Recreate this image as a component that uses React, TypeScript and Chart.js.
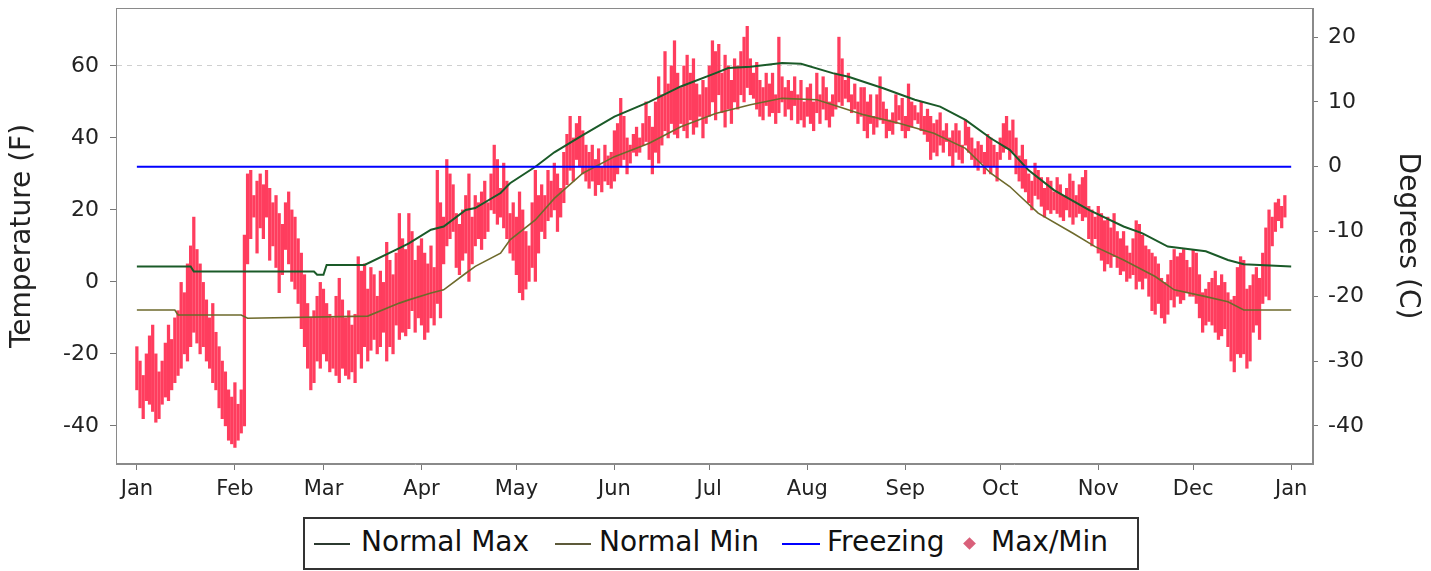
import { useEffect, useRef } from 'react'
import { Chart, registerables } from 'chart.js'

Chart.register(...registerables)

const MONTHS = ['Jan', 'Feb', 'Mar', 'Apr', 'May', 'Jun', 'Jul', 'Aug', 'Sep', 'Oct', 'Nov', 'Dec', 'Jan']
const MONTH_START_DAYS = [0, 31, 59, 90, 120, 151, 181, 212, 243, 273, 304, 334, 365]

// daily observed max / min (F), index = day of year
const DAILY_MAX = [
  -18, -22, -26, -20, -15, -12, -20, -25, -22, -17,
  -12, -16, -10, -8, 0, -3, 5, 10, 18, 9,
  5, 0, -5, -10, -6, -14, -18, -22, -25, -30,
  -32, -28, -34, -30, 13, 30, 31, 24, 28, 30,
  27, 31, 26, 22, 24, 19, 16, 22, 25, 20,
  18, 12, 8, 2, -6, -10, -8, -4, 0, -2,
  -6, -9, -10, -4, 1, -5, -10, -8, -12, -9,
  7, 3, 5, -2, 4, 2, -4, 3, 0, 11,
  6, 2, 8, 19, 12, 9, 19, 14, 6, 10,
  12, 8, 5, 10, 4, 31, 22, 18, 34, 30,
  27, 19, 16, 20, 24, 30, 18, 24, 22, 25,
  28, 22, 30, 38, 34, 26, 33, 28, 19, 22,
  18, 25, 20, 14, 10, 22, 31, 24, 27, 24,
  31, 28, 33, 30, 26, 36, 41, 46, 40, 44,
  46, 42, 38, 36, 38, 34, 37, 32, 38, 35,
  36, 42, 44, 51, 46, 40, 38, 41, 43, 40,
  44, 50, 46, 43, 50, 57, 52, 64, 55, 60,
  67, 58, 54, 60, 63, 58, 62, 55, 52, 56,
  54, 60, 67, 64, 66, 58, 63, 60, 56, 62,
  60, 64, 68, 71, 62, 58, 61, 56, 54, 58,
  55, 58, 52, 68, 57, 54, 56, 53, 57, 52,
  56, 50, 54, 55, 50, 58, 52, 57, 54, 50,
  52, 58, 68, 62, 56, 58, 52, 55, 50, 54,
  54, 50, 52, 46, 52, 57, 50, 48, 45, 47,
  52, 49, 51, 46, 55, 50, 49, 47, 50, 46,
  48, 46, 44, 45, 47, 42, 44, 40, 42, 44,
  42, 38, 45, 43, 40, 37, 39, 38, 36, 41,
  40, 38, 36, 40, 44, 46, 42, 45, 40, 35,
  38, 34, 30, 28, 33, 31, 29, 26, 29, 28,
  25, 29, 27, 24, 26, 30, 28, 24, 27, 29,
  31, 21, 20, 18, 21, 19, 17, 18, 15, 19,
  14, 12, 14, 10, 8, 12, 17, 16, 13, 10,
  9, 8, 7, 5, 1, 0, 2, 6, 9, 7,
  8, 9, 6, 4, 9, 8, 2, -3, -2, 0,
  1, 3, -1, 2, 0, -3, -5, -4, 4, 7,
  6, -2, -1, 2, 4, 1, 8, 15, 20, 18,
  22, 23, 21, 24,
]
const DAILY_MIN = [
  -30, -35, -38, -33, -34, -36, -39, -38, -34, -32,
  -33, -30, -28, -26, -24, -20, -22, -18, -14, -17,
  -20, -18, -22, -24, -28, -30, -35, -38, -40, -44,
  -45, -46, -44, -42, -40, 5, 12, 18, 8, 15,
  12, 18, 6, 10, 4, -3, 2, 9, 5, 0,
  -2, -6, -13, -18, -24, -30, -28, -22, -24, -20,
  -22, -25, -24, -26, -28, -24, -26, -27, -25, -28,
  -20, -24, -18, -22, -19, -16, -20, -18, -14, -22,
  -18, -20, -12, -16, -14, -15, -13, -8, -14, -10,
  -12, -16, -14, -10, -12, -6, -10, 5, 10, 12,
  14, 4, 2, 6, 8, 0, 5, 10, 12, 9,
  12, 14, 20, 19, 16, 18, 15, 12, 8, 6,
  2, -3, -5, -2, 0, 4, 0, 8, 14, 12,
  17, 18, 20, 14, 18, 22, 27, 31, 28, 34,
  32, 30, 28, 26, 28, 24, 27, 25, 28, 27,
  26, 28, 30, 32, 34, 30, 33, 36, 35, 36,
  38, 39, 34, 30, 36, 33, 38, 42, 40, 44,
  41, 40, 44, 42, 40, 45, 41, 43, 46, 40,
  44, 46, 50, 45, 52, 47, 43, 48, 44, 50,
  48, 52, 50, 54, 52, 51, 48, 46, 45, 49,
  46, 47, 44, 47, 50, 46, 48, 45, 49, 44,
  45, 43, 46, 44, 42, 47, 44, 48, 45, 43,
  46, 48, 50, 49, 51, 50, 47, 48, 44, 46,
  42, 40, 44, 41, 43, 45, 44, 40, 42, 41,
  44, 45, 42, 40, 42, 43, 45, 44, 42, 41,
  39, 34, 36, 35, 38, 36, 39, 35, 32, 36,
  34, 33, 38, 36, 34, 32, 31, 33, 30, 32,
  30, 32, 28, 34, 36, 37, 34, 36, 30, 28,
  26, 25, 22, 20, 24, 23, 21, 18, 20, 19,
  20, 19, 18, 17, 20, 18, 16, 18, 19, 17,
  18, 12, 10, 12, 8, 6, 3, 5, 4, 7,
  4, 2, 3, 0, 1, 2, -2, 0, -2, 1,
  -4, -8, -9, -6, -10, -11.5, -9, -5, -7, -4,
  -6, -5, -3, -4, -4, -6, -10, -14, -12, -11,
  -12, -14, -16, -15, -13, -18, -22, -25, -20, -21,
  -20, -24, -22, -14, -12, -16, -6, -4, -5, 10,
  14, 17, 15, 18,
]

// normal max / min, read at the days where the curves bend
const NORMAL_MAX_DAYS = [0, 17, 18, 56, 57, 59, 60, 72, 83, 86, 93, 97, 104, 107, 115, 118, 126, 132, 141, 151, 162, 172, 183, 187, 194, 204, 210, 220, 225, 236, 246, 254, 262, 270, 276, 282, 290, 301, 312, 318, 326, 338, 345, 350, 365]
const NORMAL_MAX = [4.3, 4.3, 2.9, 2.9, 2.0, 2.0, 4.7, 4.7, 9.4, 10.7, 14.5, 15.4, 20, 20.5, 24.7, 27.4, 32, 36, 40.8, 45.9, 50, 54.3, 58, 59.4, 59.8, 60.8, 60.6, 58, 57, 53.8, 50.6, 48.7, 45, 39.9, 36.7, 31, 25.5, 20, 15.4, 13.5, 9.8, 8.5, 6.1, 4.9, 4.3]
const NORMAL_MIN_DAYS = [0, 12, 13, 33, 35, 73, 83, 86, 93, 97, 104, 107, 115, 118, 126, 132, 141, 151, 162, 172, 183, 194, 204, 215, 220, 230, 241, 252, 262, 270, 276, 285, 296, 303, 312, 322, 328, 338, 345, 350, 365]
const NORMAL_MIN = [-7.8, -7.8, -9.2, -9.2, -10.1, -9.5, -5.9, -5, -3.1, -2.2, 2.4, 4.3, 8, 11.7, 17.2, 23.2, 30.2, 34.8, 38.5, 43.1, 46.8, 49.2, 51, 50.6, 49.2, 46.4, 44.1, 41.3, 37.1, 30.2, 26.5, 19.1, 13.5, 9.8, 6.1, 1.5, -2.2, -4.1, -5.5, -7.8, -7.8]

const FREEZING_DAYS = [0, 365]
const FREEZING_F = 32

const Y_MIN_F = -50.6
const Y_MAX_F = 76.1
const X_MIN = -6.6
const X_MAX = 371.9

const FONT = 'DejaVu Sans'
const MAX_COLOR = '#1a5a28'
const MIN_COLOR = '#6e6a2c'
const FREEZE_COLOR = '#0000ff'
const RED = '#ff3d5e'

const toC = (f: number) => ((f - 32) * 5) / 9

// plot frame around the chart area
const framePlugin = {
  id: 'frame',
  afterDatasetsDraw(chart: any) {
    const { ctx, chartArea: a } = chart
    ctx.save()
    ctx.strokeStyle = '#8a8a8a'
    ctx.lineWidth = 1
    ctx.strokeRect(a.left + 0.5, a.top + 0.5, a.right - a.left - 1, a.bottom - a.top - 1)
    ctx.restore()
  },
}

function zeroPad(scale: any) {
  scale.paddingTop = 0
  scale.paddingBottom = 0
  scale.paddingLeft = 0
  scale.paddingRight = 0
}

export default function App() {
  const canvasRef = useRef<HTMLCanvasElement>(null)
  const chartRef = useRef<Chart | null>(null)

  useEffect(() => {
    if (!canvasRef.current) return
    chartRef.current?.destroy()

    const bars = DAILY_MAX.map((mx, i) => ({ x: i, y: [DAILY_MIN[i], mx] }))
    const normMax = NORMAL_MAX_DAYS.map((d, i) => ({ x: d, y: NORMAL_MAX[i] }))
    const normMin = NORMAL_MIN_DAYS.map((d, i) => ({ x: d, y: NORMAL_MIN[i] }))
    const freezing = FREEZING_DAYS.map(d => ({ x: d, y: FREEZING_F }))

    chartRef.current = new Chart(canvasRef.current, {
      type: 'bar',
      data: {
        datasets: [
          {
            type: 'line',
            label: 'Normal Max',
            data: normMax,
            borderColor: MAX_COLOR,
            borderWidth: 2,
            pointRadius: 0,
            order: 1,
          } as any,
          {
            type: 'line',
            label: 'Normal Min',
            data: normMin,
            borderColor: MIN_COLOR,
            borderWidth: 1.6,
            pointRadius: 0,
            order: 2,
          } as any,
          {
            type: 'line',
            label: 'Freezing',
            data: freezing,
            borderColor: FREEZE_COLOR,
            borderWidth: 2,
            pointRadius: 0,
            order: 0,
          } as any,
          {
            type: 'bar',
            label: 'Max/Min',
            data: bars,
            backgroundColor: RED,
            borderWidth: 0,
            barThickness: 2.6,
            grouped: false,
            order: 5,
          } as any,
        ],
      },
      options: {
        animation: false,
        responsive: true,
        maintainAspectRatio: false,
        layout: { padding: { top: 8, left: 0, right: 0, bottom: 0 } },
        plugins: {
          legend: { display: false },
          tooltip: { enabled: false },
        },
        scales: {
          x: {
            type: 'linear',
            offset: false,
            min: X_MIN,
            max: X_MAX,
            afterBuildTicks: (scale: any) => {
              scale.ticks = MONTH_START_DAYS.map(v => ({ value: v }))
            },
            afterFit: (scale: any) => {
              scale.height = 107
              zeroPad(scale)
            },
            ticks: {
              autoSkip: false,
              maxRotation: 0,
              padding: 7,
              color: '#222',
              font: { family: FONT, size: 21 },
              callback: (v: any) => MONTHS[MONTH_START_DAYS.indexOf(Number(v))] ?? '',
            },
            grid: { offset: false, drawOnChartArea: false, tickLength: 6, color: '#777', tickColor: '#777' },
            border: { color: '#8a8a8a' },
          },
          y: {
            position: 'left',
            min: Y_MIN_F,
            max: Y_MAX_F,
            afterFit: (scale: any) => {
              scale.width = 116
              zeroPad(scale)
            },
            ticks: {
              stepSize: 20,
              includeBounds: false,
              padding: 11,
              color: '#222',
              font: { family: FONT, size: 22 },
            },
            grid: {
              color: (c: any) => (c.tick && c.tick.value === 60 ? '#cfcfcf' : 'rgba(0,0,0,0)'),
              tickColor: '#777',
              tickLength: 6,
            },
            border: { color: '#8a8a8a', dash: [5, 5] },
            title: {
              display: true,
              text: 'Temperature (F)',
              color: '#222',
              font: { family: FONT, size: 28 },
              padding: { top: 6, bottom: 0 },
            },
          },
          y2: {
            position: 'right',
            display: true,
            min: toC(Y_MIN_F),
            max: toC(Y_MAX_F),
            afterFit: (scale: any) => {
              scale.width = 118
              zeroPad(scale)
            },
            ticks: {
              stepSize: 10,
              includeBounds: false,
              padding: 10,
              color: '#222',
              font: { family: FONT, size: 22 },
            },
            grid: { drawOnChartArea: false, tickColor: '#777', tickLength: 5 },
            border: { color: '#8a8a8a' },
            title: {
              display: true,
              text: 'Degrees (C)',
              color: '#222',
              font: { family: FONT, size: 28 },
              padding: { top: 7, bottom: 0 },
            },
          },
        },
      } as any,
      plugins: [framePlugin],
    })

    return () => {
      chartRef.current?.destroy()
      chartRef.current = null
    }
  }, [])

  const legendText = { position: 'absolute' as const, top: 5, lineHeight: '36px' }
  const lineSym = (color: string, left: number, width: number, h = 2) => (
    <span style={{ position: 'absolute', left, top: 24, width, height: h, background: color }} />
  )

  return (
    <div style={{ position: 'absolute', left: 0, top: 0, width: 1431, height: 571, background: '#fff' }}>
      <div style={{ position: 'relative', width: 1431, height: 571 }}>
        <canvas ref={canvasRef} aria-label="Daily temperatures" role="img" />
      </div>

      {/* legend */}
      <div
        style={{
          position: 'absolute',
          left: 303,
          top: 517,
          width: 832,
          height: 49,
          border: '2px solid #333',
          fontFamily: FONT,
          fontSize: 28,
          color: '#111',
          background: '#fff',
        }}
      >
        {lineSym('#2c3a30', 9, 36)}
        <span style={{ ...legendText, left: 56 }}>Normal Max</span>
        {lineSym('#5d5a3a', 250, 36)}
        <span style={{ ...legendText, left: 294 }}>Normal Min</span>
        {lineSym(FREEZE_COLOR, 477, 38)}
        <span style={{ ...legendText, left: 522 }}>Freezing</span>
        <span
          style={{
            position: 'absolute',
            left: 660,
            top: 20,
            width: 9,
            height: 9,
            background: '#d9607a',
            transform: 'rotate(45deg)',
          }}
        />
        <span style={{ ...legendText, left: 686 }}>Max/Min</span>
      </div>
    </div>
  )
}
